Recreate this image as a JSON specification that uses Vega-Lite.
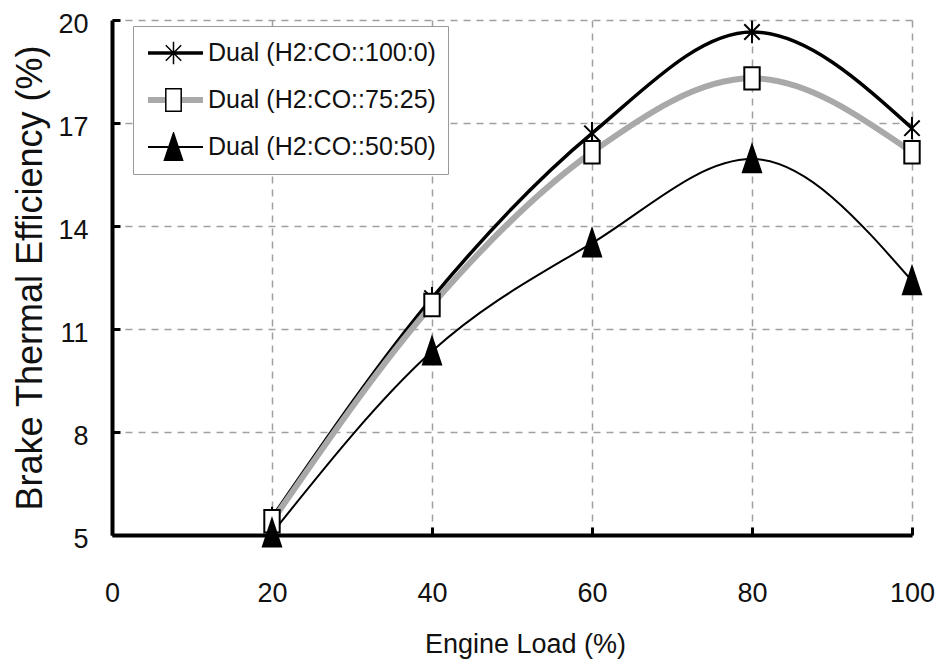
{
  "$schema": "https://vega.github.io/schema/vega-lite/v6.json",
  "width": 800,
  "height": 515,
  "autosize": {"type": "none"},
  "padding": {"left": 112, "top": 20, "right": 24, "bottom": 127},
  "background": "white",
  "config": {
    "view": {"stroke": null},
    "font": "Liberation Sans, Arial, sans-serif"
  },
  "data": {
    "values": [
      {"load": 20, "bte": 5.5, "fuel": "Dual (H2:CO::100:0)", "ratio": "100:0"},
      {"load": 40, "bte": 11.9, "fuel": "Dual (H2:CO::100:0)", "ratio": "100:0"},
      {"load": 60, "bte": 16.7, "fuel": "Dual (H2:CO::100:0)", "ratio": "100:0"},
      {"load": 80, "bte": 19.65, "fuel": "Dual (H2:CO::100:0)", "ratio": "100:0"},
      {"load": 100, "bte": 16.85, "fuel": "Dual (H2:CO::100:0)", "ratio": "100:0"},
      {"load": 20, "bte": 5.4, "fuel": "Dual (H2:CO::75:25)", "ratio": "75:25"},
      {"load": 40, "bte": 11.7, "fuel": "Dual (H2:CO::75:25)", "ratio": "75:25"},
      {"load": 60, "bte": 16.15, "fuel": "Dual (H2:CO::75:25)", "ratio": "75:25"},
      {"load": 80, "bte": 18.3, "fuel": "Dual (H2:CO::75:25)", "ratio": "75:25"},
      {"load": 100, "bte": 16.15, "fuel": "Dual (H2:CO::75:25)", "ratio": "75:25"},
      {"load": 20, "bte": 5.05, "fuel": "Dual (H2:CO::50:50)", "ratio": "50:50"},
      {"load": 40, "bte": 10.35, "fuel": "Dual (H2:CO::50:50)", "ratio": "50:50"},
      {"load": 60, "bte": 13.5, "fuel": "Dual (H2:CO::50:50)", "ratio": "50:50"},
      {"load": 80, "bte": 15.95, "fuel": "Dual (H2:CO::50:50)", "ratio": "50:50"},
      {"load": 100, "bte": 12.4, "fuel": "Dual (H2:CO::50:50)", "ratio": "50:50"}
    ]
  },
  "encoding": {
    "x": {
      "field": "load",
      "type": "quantitative",
      "scale": {"domain": [0, 100], "nice": false, "zero": false},
      "axis": {
        "values": [0, 20, 40, 60, 80, 100],
        "title": "Engine Load (%)",
        "titleFontSize": 27,
        "titleFontWeight": "normal",
        "titleColor": "#111111",
        "titleBaseline": "alphabetic",
        "titleX": 413,
        "titleY": 117,
        "labelFontSize": 27,
        "labelColor": "#111111",
        "labelBaseline": "middle",
        "labelPadding": 66,
        "labelFlush": false,
        "domainColor": "#000000",
        "domainWidth": 4,
        "tickColor": "#000000",
        "tickWidth": 3,
        "tickSize": -8,
        "grid": true,
        "gridColor": "#a0a0a0",
        "gridDash": [7, 6],
        "gridWidth": 1.5
      }
    },
    "y": {
      "field": "bte",
      "type": "quantitative",
      "scale": {"domain": [5, 20], "nice": false, "zero": false},
      "axis": {
        "values": [5, 8, 11, 14, 17, 20],
        "title": "Brake Thermal Efficiency (%)",
        "titleFontSize": 36,
        "titleFontWeight": "normal",
        "titleColor": "#111111",
        "titleBaseline": "middle",
        "titleX": -82,
        "labelFontSize": 27,
        "labelColor": "#111111",
        "labelBaseline": "middle",
        "labelOffset": 4,
        "labelPadding": 32,
        "labelFlush": false,
        "domainColor": "#000000",
        "domainWidth": 4,
        "tickColor": "#000000",
        "tickWidth": 3,
        "tickSize": -8,
        "grid": true,
        "gridColor": "#a0a0a0",
        "gridDash": [7, 6],
        "gridWidth": 1.5
      }
    }
  },
  "layer": [
    {
      "mark": {"type": "line", "interpolate": "monotone"},
      "encoding": {
        "color": {
          "field": "fuel",
          "type": "nominal",
          "scale": {
            "domain": ["Dual (H2:CO::100:0)", "Dual (H2:CO::75:25)", "Dual (H2:CO::50:50)"],
            "range": ["#000000", "#a9a9a9", "#000000"]
          },
          "legend": {
            "orient": "none",
            "legendX": 21,
            "legendY": 6,
            "title": null,
            "padding": 12,
            "strokeColor": "#9a9a9a",
            "fillColor": "white",
            "labelFontSize": 25,
            "labelColor": "#111111",
            "labelOffset": 2,
            "labelLimit": 400,
            "symbolType": "stroke",
            "symbolSize": 3025,
            "clipHeight": 30,
            "rowPadding": 17
          }
        },
        "strokeWidth": {
          "field": "fuel",
          "type": "nominal",
          "scale": {
            "type": "ordinal",
            "domain": ["Dual (H2:CO::100:0)", "Dual (H2:CO::75:25)", "Dual (H2:CO::50:50)"],
            "range": [3.5, 6, 2]
          },
          "legend": {
            "orient": "none",
            "legendX": 21,
            "legendY": 6,
            "title": null,
            "padding": 12,
            "strokeColor": "#9a9a9a",
            "fillColor": "white",
            "labelFontSize": 25,
            "labelColor": "#111111",
            "labelOffset": 2,
            "labelLimit": 400,
            "symbolType": "stroke",
            "symbolSize": 3025,
            "clipHeight": 30,
            "rowPadding": 17
          }
        }
      }
    },
    {
      "mark": {"type": "point", "stroke": "#000000", "strokeWidth": 2, "opacity": 1, "size": 784},
      "encoding": {
        "shape": {
          "field": "ratio",
          "type": "nominal",
          "scale": {
            "domain": ["100:0", "75:25", "50:50"],
            "range": [
              "M0,-0.8V0.8M-0.55,-0.55L0.55,0.55M-0.55,0.55L0.55,-0.55",
              "M-0.55,-0.8H0.55V0.8H-0.55Z",
              "M0,-1L0.65,0.95H-0.65Z"
            ]
          },
          "legend": {
            "orient": "none",
            "legendX": 34.5,
            "legendY": 6,
            "title": null,
            "padding": 12,
            "labelFontSize": 25,
            "labelColor": "transparent",
            "labelExpr": "''",
            "labelOffset": 3,
            "symbolSize": 784,
            "clipHeight": 30,
            "rowPadding": 17,
            "encode": {
              "symbols": {
                "update": {
                  "stroke": {"value": "#000000"},
                  "strokeWidth": {"value": 2},
                  "opacity": {"value": 1}
                }
              }
            }
          }
        },
        "fill": {
          "field": "ratio",
          "type": "nominal",
          "scale": {
            "domain": ["100:0", "75:25", "50:50"],
            "range": ["#ffffff", "#ffffff", "#000000"]
          },
          "legend": {
            "orient": "none",
            "legendX": 34.5,
            "legendY": 6,
            "title": null,
            "padding": 12,
            "labelFontSize": 25,
            "labelColor": "transparent",
            "labelExpr": "''",
            "labelOffset": 3,
            "symbolSize": 784,
            "clipHeight": 30,
            "rowPadding": 17,
            "encode": {
              "symbols": {
                "update": {
                  "stroke": {"value": "#000000"},
                  "strokeWidth": {"value": 2},
                  "opacity": {"value": 1}
                }
              }
            }
          }
        }
      }
    }
  ]
}
